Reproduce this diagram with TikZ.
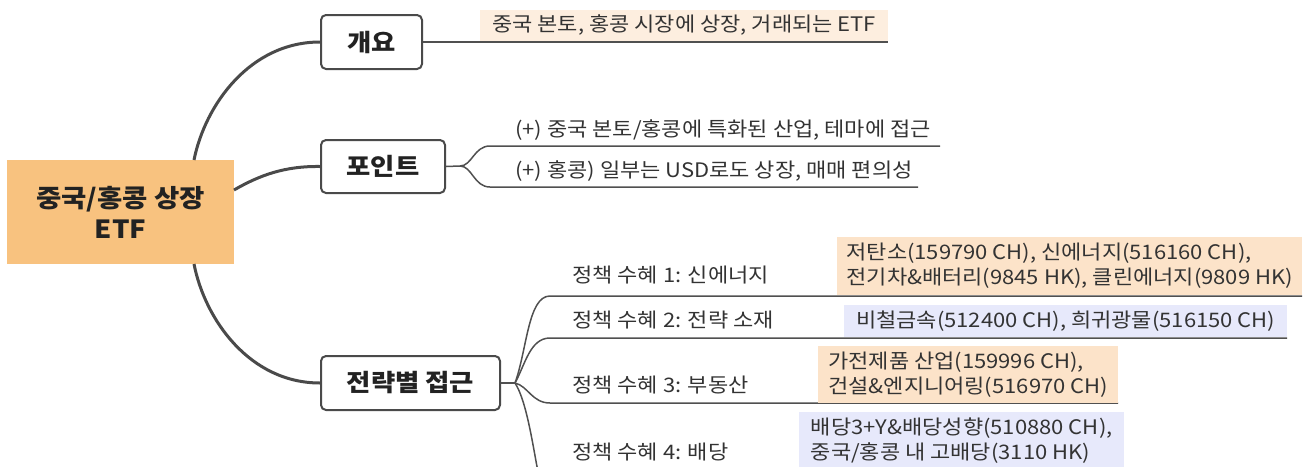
\documentclass[tikz,border=0pt]{standalone}
\usepackage{fontspec}
\setmainfont{Noto Sans CJK KR}[FakeStretch=1.1]
\definecolor{rootc}{HTML}{F8C27F}
\definecolor{beige}{HTML}{FDEEDF}
\definecolor{orangebg}{HTML}{FCE3C9}
\definecolor{lavbg}{HTML}{E7E9FB}
\definecolor{brc}{HTML}{4A4A4A}
\definecolor{subc}{HTML}{505050}
\definecolor{textc}{HTML}{222222}
\definecolor{textc2}{HTML}{333333}
\begin{document}
\begin{tikzpicture}[x=1pt,y=-1pt,
  rootbox/.style={fill=rootc, minimum width=227pt, minimum height=104pt, align=center, inner sep=0pt,
    font=\fontsize{25}{31}\selectfont\bfseries, text=textc},
  catbox/.style={draw=brc, line width=2pt, rounded corners=5pt, fill=white, inner sep=0pt,
    font=\fontsize{24}{28}\selectfont\bfseries, text=textc},
  branch/.style={draw=brc, line width=3pt},
  subline/.style={draw=subc, line width=1.5pt},
  lbl/.style={font=\fontsize{20}{25}\selectfont, text=textc2, anchor=west, inner sep=0pt},
  leafbox/.style={font=\fontsize{20}{25}\selectfont, text=textc2, align=left, inner sep=0pt}]
\useasboundingbox (0,0) rectangle (1306,466);
\clip (0,0) rectangle (1306,466);

% root and categories
\node[rootbox] (root) at (120.5,212) {중국/홍콩 상장\\ETF};
\node[catbox, minimum width=101pt, minimum height=54pt] (gy) at (371.5,42) {개요};
\node[catbox, minimum width=124pt, minimum height=53pt] (pt) at (383,166.5) {포인트};
\node[catbox, minimum width=179pt, minimum height=54pt] (jr) at (410.5,383) {전략별 접근};

\coordinate (rtop) at (194,160);
\coordinate (rright) at (234,190);
\coordinate (rbot) at (194,264);
\draw[branch] (rtop) .. controls (205,105) and (250,42) .. (gy.west);
\draw[branch] (rright) .. controls (260,175) and (285,166) .. (pt.west);
\draw[branch] (rbot) .. controls (205,320) and (250,383) .. (jr.west);

% overview
\node[leafbox, fill=beige, minimum width=408pt, minimum height=31pt, anchor=south west, align=center] (g1) at (480,41) {중국 본토, 홍콩 시장에 상장, 거래되는 ETF};
\draw[subline] (gy.east) -- (g1.south east |- gy.east);

% points
\coordinate (pf) at (460,166);
\coordinate (p1s) at (490,146);
\coordinate (p1e) at (940,146);
\coordinate (p2s) at (490,187);
\coordinate (p2e) at (918,187);
\node[lbl] (p1) at (515,130) {(+) 중국 본토/홍콩에 특화된 산업, 테마에 접근};
\node[lbl] (p2) at (515,171) {(+) 홍콩) 일부는 USD로도 상장, 매매 편의성};
\draw[subline] (pt.east) -- (pf);
\draw[subline] (pf) .. controls (472,166) and (474,146) .. (p1s) -- (p1e);
\draw[subline] (pf) .. controls (472,166) and (474,187) .. (p2s) -- (p2e);

% strategies
\coordinate (sf) at (515,383);
\coordinate (s1s) at (550,296);
\coordinate (s1e) at (1302,296);
\coordinate (s2s) at (550,338);
\coordinate (s2e) at (1287,338);
\coordinate (s3s) at (550,403);
\coordinate (s3e) at (1118,403);
\coordinate (s4e) at (538,472);
\draw[subline] (jr.east) -- (sf);
\draw[subline] (sf) .. controls (527,350) and (528,296) .. (s1s) -- (s1e);
\draw[subline] (sf) .. controls (525,365) and (530,338) .. (s2s) -- (s2e);
\draw[subline] (sf) .. controls (528,386) and (532,403) .. (s3s) -- (s3e);
\draw[subline] (sf) .. controls (526,400) and (532,440) .. (s4e);

\node[lbl] (s1) at (572,275) {정책 수혜 1: 신에너지};
\node[lbl] (s2) at (572,320) {정책 수혜 2: 전략 소재};
\node[lbl] (s3) at (572,385) {정책 수혜 3: 부동산};
\node[lbl] (s4) at (572,452) {정책 수혜 4: 배당};

\node[leafbox, fill=orangebg, minimum width=465pt, minimum height=58pt, anchor=south west] (b1) at (837,295)
  {저탄소(159790 CH), 신에너지(516160 CH),\\전기차\&배터리(9845 HK), 클린에너지(9809 HK)};
\node[leafbox, fill=lavbg, minimum width=443pt, minimum height=32pt, anchor=south west] (b2) at (844,337)
  {비철금속(512400 CH), 희귀광물(516150 CH)};
\node[leafbox, fill=orangebg, minimum width=300pt, minimum height=57pt, anchor=south west] (b3) at (818,403)
  {가전제품 산업(159996 CH),\\건설\&엔지니어링(516970 CH)};
\node[leafbox, fill=lavbg, minimum width=325pt, minimum height=56pt, anchor=north west] (b4) at (799,412)
  {배당3+Y\&배당성향(510880 CH),\\중국/홍콩 내 고배당(3110 HK)};
\end{tikzpicture}
\end{document}
